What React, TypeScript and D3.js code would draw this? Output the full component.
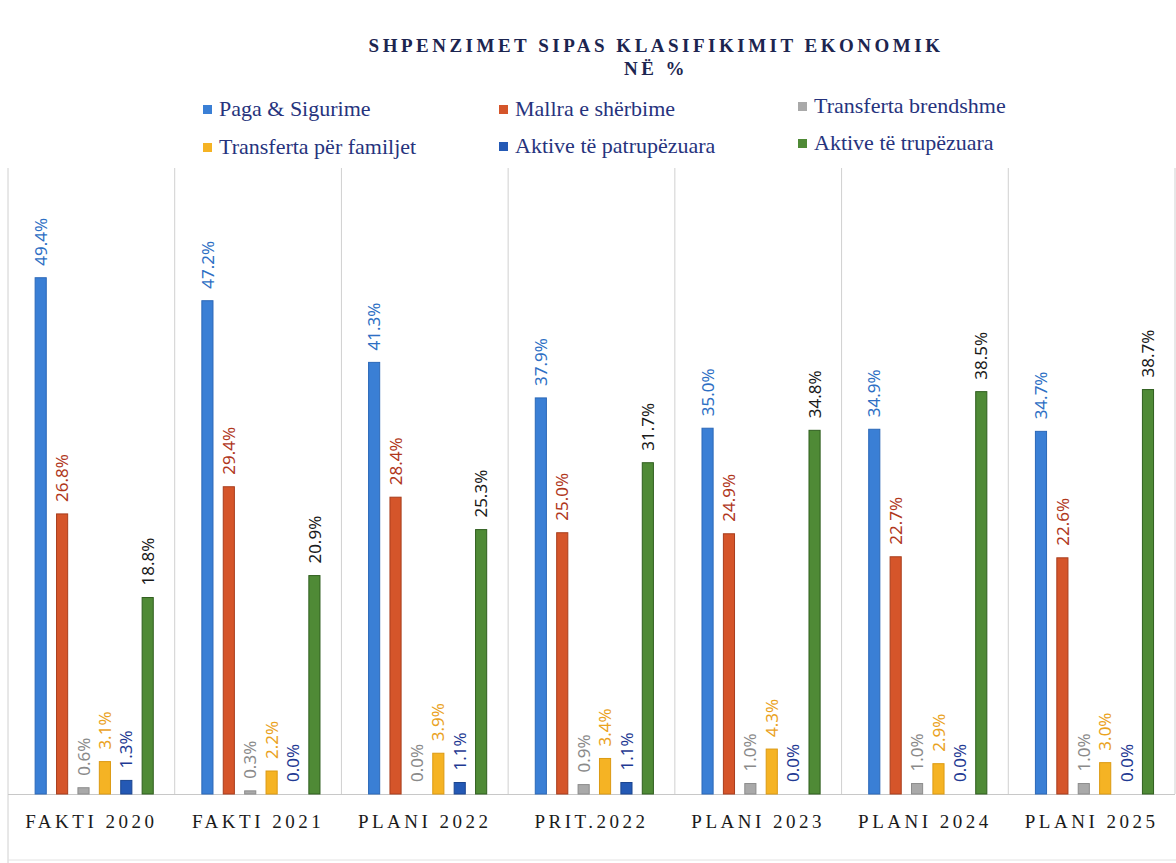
import React, { useEffect, useRef } from "react";
import * as d3 from "d3";

const WIDTH = 1176;
const HEIGHT = 863;

const categories = [
  "FAKTI 2020",
  "FAKTI 2021",
  "PLANI 2022",
  "PRIT.2022",
  "PLANI 2023",
  "PLANI 2024",
  "PLANI 2025",
];

const seriesNames = [
  "Paga & Sigurime",
  "Mallra e shërbime",
  "Transferta brendshme",
  "Transferta për familjet",
  "Aktive të patrupëzuara",
  "Aktive të trupëzuara",
];

const paga = [49.4, 47.2, 41.3, 37.9, 35.0, 34.9, 34.7];
const mallra = [26.8, 29.4, 28.4, 25.0, 24.9, 22.7, 22.6];
const brendshme = [0.6, 0.3, 0.0, 0.9, 1.0, 1.0, 1.0];
const familjet = [3.1, 2.2, 3.9, 3.4, 4.3, 2.9, 3.0];
const patrupezuara = [1.3, 0.0, 1.1, 1.1, 0.0, 0.0, 0.0];
const trupezuara = [18.8, 20.9, 25.3, 31.7, 34.8, 38.5, 38.7];

const seriesValues = [paga, mallra, brendshme, familjet, patrupezuara, trupezuara];

const barColors = ["#3a7fd5", "#d5552a", "#a9a9a9", "#f5b324", "#2459b5", "#4f8a36"];
const barStroke = ["#2b68b8", "#a83d1c", "#8c8c8c", "#dc9a12", "#1b4590", "#2f5e1e"];
const labelColors = ["#2e6fc4", "#b0371c", "#8a8a8a", "#eaa21e", "#1f3a93", "#1a1a1a"];

const MARGIN = { left: 8, right: 1175, top: 168, bottom: 794 };

export default function App() {
  const svgRef = useRef<SVGSVGElement | null>(null);

  useEffect(() => {
    const svg = d3.select(svgRef.current);
    svg.selectAll("*").remove();

    const x0 = d3
      .scaleBand<string>()
      .domain(categories)
      .range([MARGIN.left, MARGIN.right])
      .paddingInner(0)
      .paddingOuter(0);

    // bars sit in a slightly off-centre cluster inside each category
    const x1 = d3
      .scaleBand<string>()
      .domain(seriesNames)
      .range([22, 150.4])
      .paddingInner(0.48)
      .paddingOuter(0.24);

    const y = d3.scaleLinear().domain([0, 59.9]).range([MARGIN.bottom, MARGIN.top]);

    svg.append("rect").attr("width", WIDTH).attr("height", HEIGHT).attr("fill", "#fff");

    // title
    const title = svg
      .append("text")
      .attr("text-anchor", "middle")
      .attr("font-family", "'Liberation Serif', serif")
      .attr("font-weight", "bold")
      .attr("font-size", 19)
      .attr("letter-spacing", 3.5)
      .attr("fill", "#1c2550");
    title.append("tspan").attr("x", 656).attr("y", 52).text("SHPENZIMET SIPAS KLASIFIKIMIT EKONOMIK");
    title.append("tspan").attr("x", 656).attr("y", 75).text("NË %");

    // legend
    const legendPos = [
      [203, 116],
      [499, 116],
      [798, 113],
      [203, 154],
      [499, 153],
      [798, 150],
    ];
    seriesNames.forEach((name, i) => {
      const [lx, ly] = legendPos[i];
      svg
        .append("rect")
        .attr("x", lx)
        .attr("y", ly - 11)
        .attr("width", 9)
        .attr("height", 9)
        .attr("fill", barColors[i]);
      svg
        .append("text")
        .attr("x", lx + 16)
        .attr("y", ly)
        .attr("font-family", "'Liberation Serif', serif")
        .attr("font-size", 22)
        .attr("fill", "#26337d")
        .text(name);
    });

    // vertical separators
    const bounds = categories.map((c) => x0(c)!).concat([MARGIN.right]);
    svg
      .append("g")
      .selectAll("line")
      .data(bounds)
      .join("line")
      .attr("x1", (d) => d)
      .attr("x2", (d) => d)
      .attr("y1", MARGIN.top)
      .attr("y2", (d, i) => (i === 0 ? HEIGHT : MARGIN.bottom))
      .attr("stroke", "#d0d0d0")
      .attr("stroke-width", 1);

    // baseline
    svg
      .append("line")
      .attr("x1", MARGIN.left)
      .attr("x2", MARGIN.right)
      .attr("y1", MARGIN.bottom + 0.5)
      .attr("y2", MARGIN.bottom + 0.5)
      .attr("stroke", "#c8c8c8");

    // bars and labels
    const groups = svg
      .append("g")
      .selectAll("g")
      .data(categories)
      .join("g")
      .attr("transform", (c) => `translate(${x0(c)},0)`);

    seriesNames.forEach((name, si) => {
      groups
        .append("rect")
        .attr("x", x1(name)!)
        .attr("width", x1.bandwidth())
        .attr("y", (c, ci) => y(seriesValues[si][ci]))
        .attr("height", (c, ci) => MARGIN.bottom - y(seriesValues[si][ci]))
        .attr("fill", barColors[si])
        .attr("stroke", (c, ci) => (seriesValues[si][ci] > 0 ? barStroke[si] : "none"))
        .attr("stroke-width", 1);

      groups
        .append("text")
        .attr("transform", (c, ci) => {
          const cx = x1(name)! + x1.bandwidth() / 2;
          const cy = y(seriesValues[si][ci]) - 12;
          return `translate(${cx},${cy}) rotate(-90)`;
        })
        .attr("dy", "0.36em")
        .attr("font-family", "'Noto Sans', sans-serif")
        .attr("font-size", 17)
        .attr("fill", labelColors[si])
        .text((c, ci) => `${seriesValues[si][ci].toFixed(1)}%`);
    });

    // category labels
    svg
      .append("g")
      .selectAll("text")
      .data(categories)
      .join("text")
      .attr("x", (c) => x0(c)! + x0.bandwidth() / 2)
      .attr("y", 828)
      .attr("text-anchor", "middle")
      .attr("font-family", "'Liberation Serif', serif")
      .attr("font-size", 19)
      .attr("letter-spacing", 3.5)
      .attr("fill", "#1a1a1a")
      .text((c) => c);

    // page bottom edge
    svg
      .append("line")
      .attr("x1", MARGIN.left)
      .attr("x2", WIDTH)
      .attr("y1", 860)
      .attr("y2", 860)
      .attr("stroke", "#e2e2e2");
  }, []);

  return (
    <svg
      ref={svgRef}
      width={WIDTH}
      height={HEIGHT}
      style={{ position: "absolute", left: 0, top: 0 }}
    />
  );
}
